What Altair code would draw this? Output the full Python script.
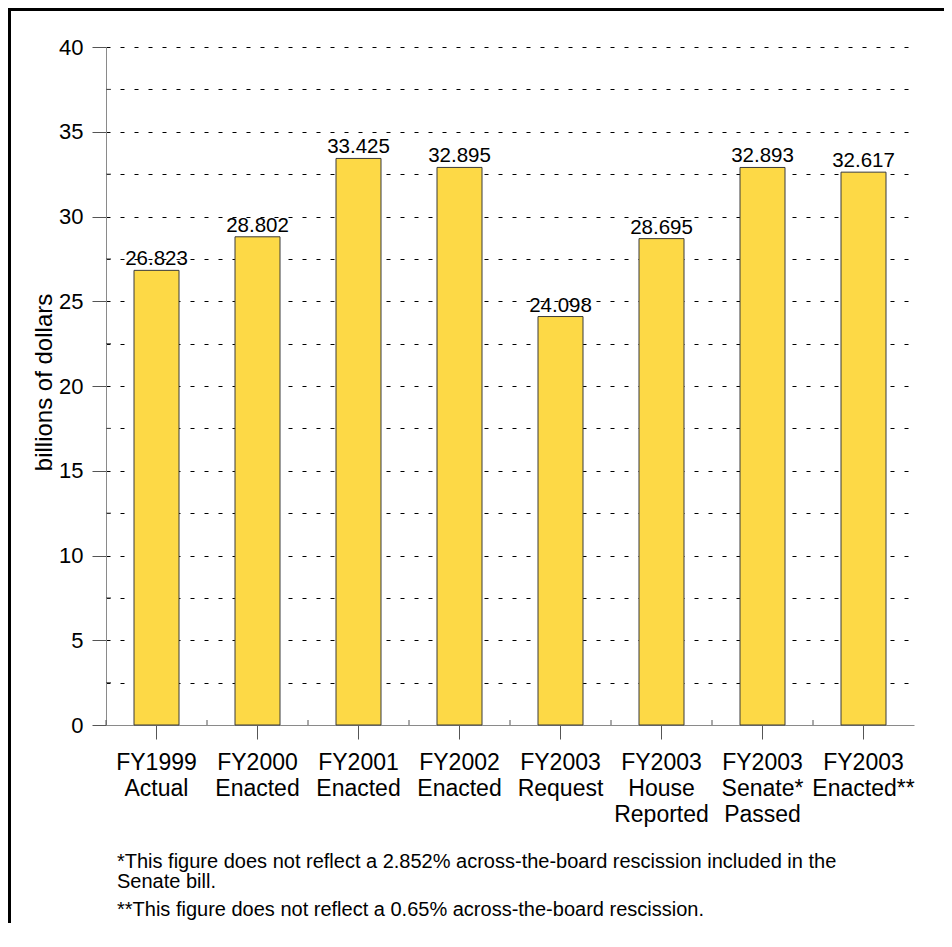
import altair as alt
import pandas as pd

# ---- data -------------------------------------------------------------
categories = [
    "FY1999\nActual",
    "FY2000\nEnacted",
    "FY2001\nEnacted",
    "FY2002\nEnacted",
    "FY2003\nRequest",
    "FY2003\nHouse\nReported",
    "FY2003\nSenate*\nPassed",
    "FY2003\nEnacted**",
]
values = [26.823, 28.802, 33.425, 32.895, 24.098, 28.695, 32.893, 32.617]
value_labels = ["26.823", "28.802", "33.425", "32.895", "24.098", "28.695", "32.893", "32.617"]

y_tick_values = [0, 2.5, 5, 7.5, 10, 12.5, 15, 17.5, 20, 22.5, 25, 27.5, 30, 32.5, 35, 37.5, 40]
y_minor_values = [2.5, 7.5, 12.5, 17.5, 22.5, 27.5, 32.5, 37.5]
y_title = "billions of dollars"
footnote_1 = [
    "*This figure does not reflect a 2.852% across-the-board rescission included in the",
    "Senate bill.",
]
footnote_2 = "**This figure does not reflect a 0.65% across-the-board rescission."

# ---- layout / style ---------------------------------------------------
W, H = 808, 678
FONT = "Liberation Sans"
BAR_FILL = "#FDD946"
AXIS_GRAY = "#8a8a8a"
TICK_GRAY = "#555555"

df = pd.DataFrame({"category": categories, "value": values, "label": value_labels})
minor_df = pd.DataFrame({"value": y_minor_values})
one = pd.DataFrame({"k": [0]})

x_scale = alt.Scale(paddingInner=0, paddingOuter=0)
y_scale = alt.Scale(domain=[0, 40], nice=False, zero=True)

x_axis = alt.Axis(
    title=None,
    labelAngle=0,
    labelExpr="split(datum.label, '\\n')",
    labelFont=FONT,
    labelFontSize=23,
    labelLineHeight=26,
    labelColor="black",
    labelPadding=12,
    tickSize=14,
    tickColor=TICK_GRAY,
    domainColor=AXIS_GRAY,
    grid=False,
)

y_axis = alt.Axis(
    title=y_title,
    values=y_tick_values,
    labelExpr="datum.value % 5 === 0 ? datum.label : ''",
    tickSize={"condition": {"test": "datum.value % 5 !== 0", "value": 0}, "value": 14},
    tickColor=TICK_GRAY,
    domainColor=AXIS_GRAY,
    grid=True,
    gridDash=[4, 10],
    gridColor="black",
    gridWidth=1,
    labelFont=FONT,
    labelFontSize=22,
    labelColor="black",
    labelPadding=9,
    titleFont=FONT,
    titleFontSize=24,
    titleFontWeight="normal",
    titleColor="black",
    titleX=-62,
    titleY=H / 2 - 4,
    titleBaseline="middle",
)


def xe(**kw):
    return alt.X("category:N", sort=categories, scale=x_scale, axis=x_axis, **kw)


def ye():
    return alt.Y("value:Q", scale=y_scale, axis=y_axis)


bars = alt.Chart(df).mark_bar(
    width=45, fill=BAR_FILL, stroke="#3a3a3a", strokeWidth=1
).encode(x=xe(), y=ye())

bar_text = alt.Chart(df).mark_text(
    baseline="alphabetic", dy=-5, font=FONT, fontSize=20.5, color="black"
).encode(x=xe(), y=ye(), text="label:N")

# small inward ticks on the value axis (half steps)
minor_y = alt.Chart(minor_df).mark_rule(color=TICK_GRAY, strokeWidth=1).encode(
    y=ye(),
    x=alt.value(0),
    x2=alt.value(5),
)

# small upward ticks at the category boundaries
minor_x = alt.Chart(df).mark_rule(color=TICK_GRAY, strokeWidth=1).encode(
    x=xe(bandPosition=0),
    y=alt.value(H - 5),
    y2=alt.value(H),
)

foot1 = alt.Chart(one).mark_text(
    align="left", baseline="alphabetic", font=FONT, fontSize=20, lineHeight=20,
    color="black", text=footnote_1,
).encode(x=alt.value(11), y=alt.value(821))

foot2 = alt.Chart(one).mark_text(
    align="left", baseline="alphabetic", font=FONT, fontSize=20,
    color="black", text=footnote_2,
).encode(x=alt.value(11), y=alt.value(869))

border_top = alt.Chart(one).mark_rule(color="black", strokeWidth=3).encode(
    x=alt.value(-97), x2=alt.value(W + 40), y=alt.value(-37.5)
)
border_left = alt.Chart(one).mark_rule(color="black", strokeWidth=3).encode(
    x=alt.value(-96.5), y=alt.value(-39), y2=alt.value(H + 230)
)

chart = alt.layer(
    bars, minor_y, minor_x, bar_text, foot1, foot2, border_top, border_left
).properties(
    width=W,
    height=H,
    padding={"left": 98, "top": 39, "right": 30, "bottom": 198},
    autosize=alt.AutoSizeParams(type="none"),
    background="white",
).configure_view(stroke=None)

chart.save("out.html", embed_options={"renderer": "svg", "actions": False})
